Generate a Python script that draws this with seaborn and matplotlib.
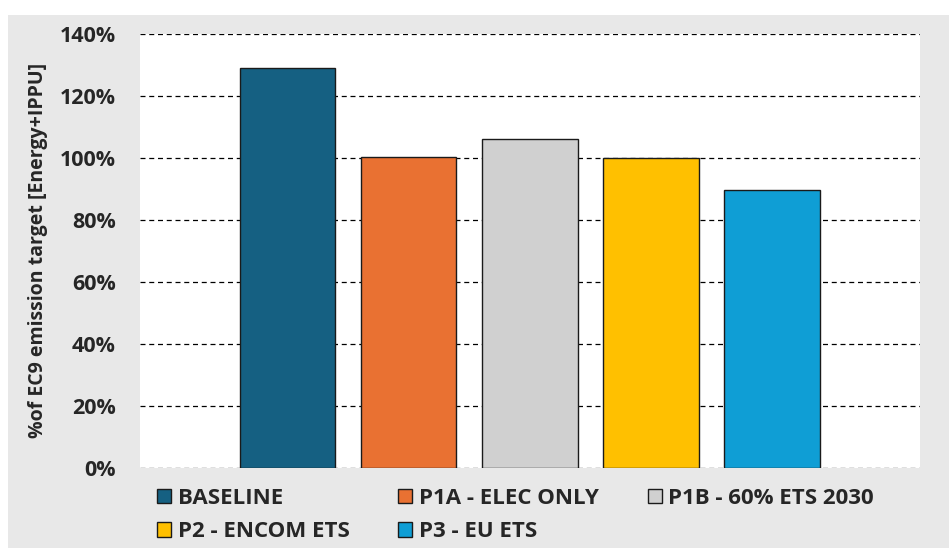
import matplotlib
matplotlib.use("Agg")
import matplotlib.pyplot as plt
import seaborn as sns
import pandas as pd
from matplotlib.patches import Rectangle, Patch
from matplotlib.ticker import FuncFormatter

scenarios = ["BASELINE", "P1A - ELEC ONLY", "P1B - 60% ETS 2030", "P2 - ENCOM ETS", "P3 - EU ETS"]
values = [129.1, 100.4, 106.2, 100.0, 89.6]
colors = ["#156082", "#E97132", "#D0D0D0", "#FFC000", "#0F9ED5"]
yticks = [0, 20, 40, 60, 80, 100, 120, 140]
ylabel = "%of EC9 emission target [Energy+IPPU]"

sns.set_theme(style="white")
plt.rcParams["font.family"] = ["Open Sans", "DejaVu Sans"]
plt.rcParams["font.weight"] = "bold"

df = pd.DataFrame({"scenario": scenarios, "value": values})

fig = plt.figure(figsize=(9.49, 5.48), dpi=100, facecolor="white")
fig.patches.append(Rectangle((8/949, 0), 1 - 8/949, 1 - 15/548, transform=fig.transFigure,
                             facecolor="#E8E8E8", edgecolor="none", zorder=-10))
ax = fig.add_axes([140/949, (548-467.5)/548, (920-140)/949, (467.5-34)/548])
ax.set_facecolor("white")

sns.barplot(data=df, x="scenario", y="value", hue="scenario", palette=colors,
            order=scenarios, hue_order=scenarios, width=0.79, edgecolor="#1a1a1a",
            linewidth=1.0, saturation=1, legend=False, ax=ax, zorder=3)

ax.set_xlim(-1.218, 5.222)
ax.set_ylim(0, 140)
ax.set_yticks(yticks)
ax.yaxis.set_major_formatter(FuncFormatter(lambda v, p: f"{int(v)}%"))
ax.set_xticks([])
ax.set_xlabel("")
ax.set_ylabel(ylabel, fontsize=14, fontweight="bold", labelpad=8)
ax.tick_params(axis="y", length=0, pad=17.5, labelsize=15.5)
for lab in ax.get_yticklabels():
    lab.set_fontweight("bold")
ax.yaxis.grid(True, linestyle=(0, (4, 3)), color="black", linewidth=0.9, zorder=0)
ax.set_axisbelow(True)
for s in ax.spines.values():
    s.set_visible(False)

handles = [Patch(facecolor=c, edgecolor="#1a1a1a", linewidth=1.0) for c in colors]
order = [0, 3, 1, 4, 2]
leg = fig.legend([handles[i] for i in order], [scenarios[i] for i in order],
                 ncol=3, loc="upper left", bbox_to_anchor=(148/949, 1 - 479/548),
                 frameon=False, prop={"weight": "bold", "size": 16},
                 handlelength=0.63, handleheight=0.63, handletextpad=0.3,
                 columnspacing=2.2, labelspacing=0.55, borderaxespad=0)

fig.savefig("out.png", dpi=100, facecolor=fig.get_facecolor())
